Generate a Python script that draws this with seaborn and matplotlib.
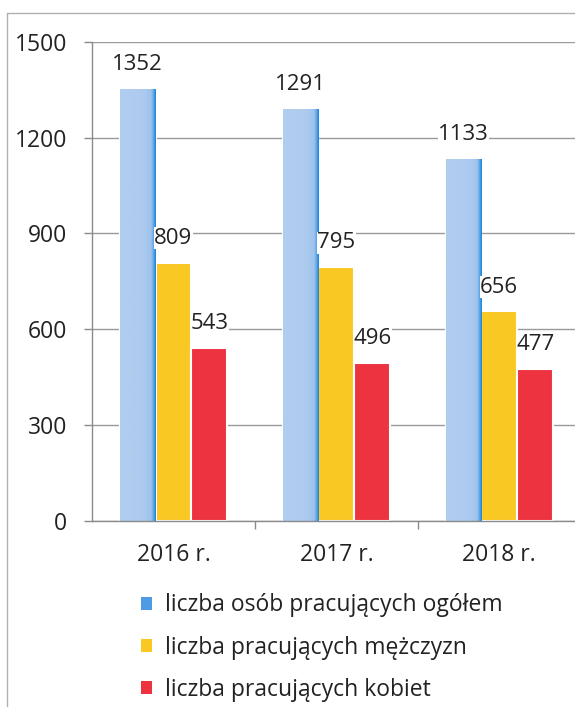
import seaborn as sns
import matplotlib.pyplot as plt
import matplotlib.lines as mlines
import matplotlib.patches as mpatches
import numpy as np
import pandas as pd

# values
years = ["2016 r.", "2017 r.", "2018 r."]
ogolem = [1352, 1291, 1133]
mezczyzni = [809, 795, 656]
kobiety = [543, 496, 477]
series_names = ["liczba osób pracujących ogółem",
                "liczba pracujących mężczyzn",
                "liczba pracujących kobiet"]
colors = ["#a9c9ee", "#f9c823", "#ee3340"]

df = pd.DataFrame({
    "rok": years * 3,
    "wartosc": ogolem + mezczyzni + kobiety,
    "seria": [series_names[0]] * 3 + [series_names[1]] * 3 + [series_names[2]] * 3,
})

sns.set_style("white")
plt.rcParams['font.family'] = ['Open Sans', 'DejaVu Sans']
fs = 16.5

fig = plt.figure(figsize=(5.75, 7.07), dpi=100)
ax = fig.add_axes([0.16, 0.263, 0.85, 0.678])

sns.barplot(data=df, x="rok", y="wartosc", hue="seria", palette=colors, saturation=1,
            width=0.66, edgecolor="white", linewidth=1.5, ax=ax, legend=False)

# blue bars: light texture with darker right edge (gradient clipped to the bar)
grad = np.linspace(0, 1, 60)[None, :] ** 5
blue_cmap = sns.blend_palette(["#b0cdf0", "#9dc2ec", "#1a86dc"], as_cmap=True)
for patch in ax.containers[0]:
    x0, y0 = patch.get_x(), patch.get_y()
    w, h = patch.get_width(), patch.get_height()
    im = ax.imshow(grad, extent=[x0, x0 + w, y0, y0 + h], aspect="auto",
                   cmap=blue_cmap, zorder=patch.get_zorder() + 0.1)
    im.set_clip_path(patch)

for cont in ax.containers:
    ax.bar_label(cont, padding=10, fontsize=16, color="#222222",
                 bbox=dict(facecolor="white", edgecolor="none", pad=0.3))

ax.set_xlim(-0.5, 2.5)
ax.set_ylim(0, 1500)
ax.set_yticks([0, 300, 600, 900, 1200, 1500])
ax.set_xlabel("")
ax.set_ylabel("")
ax.yaxis.grid(True, color="#9a9a9a", linewidth=1)
ax.set_axisbelow(True)
for s in ["top", "right"]:
    ax.spines[s].set_visible(False)
for s in ["left", "bottom"]:
    ax.spines[s].set_color("#8a8a8a")
    ax.spines[s].set_linewidth(1)
ax.tick_params(axis="y", left=True, length=6, width=1, color="#8a8a8a",
               labelsize=fs, pad=12, labelcolor="#222222")
ax.tick_params(axis="x", bottom=False, labelsize=fs, pad=12, labelcolor="#222222")
ax.set_xticks([0.5, 1.5], minor=True)
ax.tick_params(axis="x", which="minor", bottom=True, length=6, width=1, color="#8a8a8a")

# legend below the chart
handles = [mpatches.Patch(facecolor=c, edgecolor="none") for c in ["#4f9ae4", colors[1], colors[2]]]
fig.legend(handles, series_names, loc="upper left", bbox_to_anchor=(0.245, 0.161),
           frameon=False, fontsize=fs, handlelength=0.5, handleheight=0.5,
           handletextpad=0.55, labelspacing=0.8, borderpad=0, borderaxespad=0,
           labelcolor="#222222")

# outer chart frame
fig.add_artist(mlines.Line2D([0.013, 1.0], [0.982, 0.982], color="#b0b0b0", lw=1))
fig.add_artist(mlines.Line2D([0.013, 0.013], [0.0, 0.982], color="#b0b0b0", lw=1))

fig.savefig("out.png", dpi=100)
